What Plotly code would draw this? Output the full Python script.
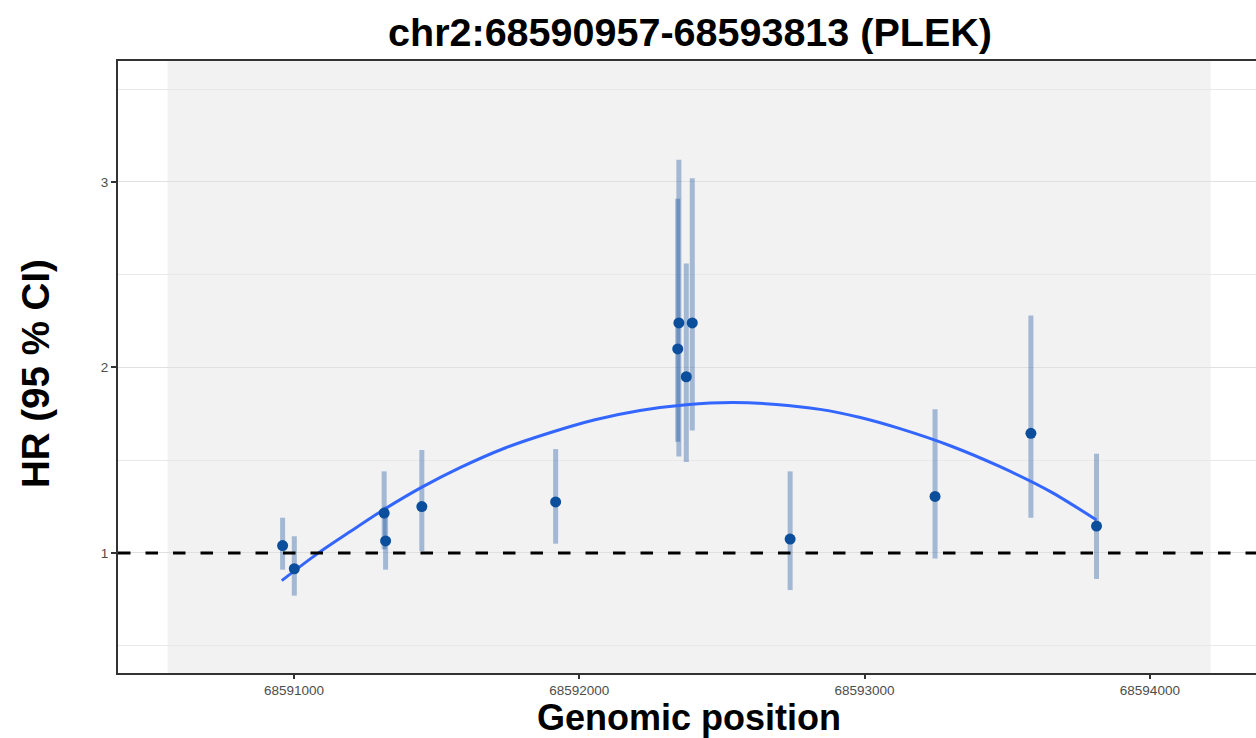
import plotly.graph_objects as go

# ---- data ----
chrom = "chr2"
gene = "PLEK"
region_start = 68590957
region_end = 68593813
region_pad = 400

pos = [68590960, 68591001, 68591316, 68591321, 68591448, 68591917,
       68592345, 68592349, 68592375, 68592396, 68592739, 68593247,
       68593583, 68593813]
hr = [1.04, 0.915, 1.215, 1.065, 1.25, 1.275,
      2.10, 2.24, 1.95, 2.24, 1.075, 1.305,
      1.645, 1.145]
ci_low = [0.91, 0.77, 1.02, 0.91, 1.01, 1.05,
          1.60, 1.52, 1.49, 1.66, 0.80, 0.97,
          1.19, 0.86]
ci_high = [1.19, 1.09, 1.44, 1.25, 1.555, 1.56,
           2.91, 3.12, 2.56, 3.02, 1.44, 1.775,
           2.28, 1.535]

# fitted smooth curve
fit_pos = [68590957, 68591081, 68591200, 68591315, 68591450, 68591582,
           68591740, 68591897, 68592055, 68592213, 68592375, 68592535,
           68592690, 68592844, 68592985, 68593124, 68593300, 68593475,
           68593650, 68593813]
fit_hr = [0.851, 0.995, 1.118, 1.234, 1.356, 1.46,
          1.566, 1.648, 1.718, 1.768, 1.799, 1.811,
          1.801, 1.774, 1.73, 1.67, 1.578, 1.465,
          1.332, 1.178]

x_ticks = [68591000, 68592000, 68593000, 68594000]
y_ticks = [1, 2, 3]
y_minor = [0.5, 1.5, 2.5, 3.5]
ref_line = 1

# ---- figure ----
fig = go.Figure()

err_plus = [h - y for h, y in zip(ci_high, hr)]
err_minus = [y - l for y, l in zip(hr, ci_low)]

fig.add_trace(go.Scatter(
    x=pos, y=hr, mode="markers",
    marker=dict(size=1, color="rgba(0,0,0,0)"),
    error_y=dict(type="data", symmetric=False, array=err_plus, arrayminus=err_minus,
                 color="rgba(8,72,156,0.34)", thickness=5, width=0),
    hoverinfo="skip", showlegend=False,
))

fig.add_trace(go.Scatter(
    x=fit_pos, y=fit_hr, mode="lines",
    line=dict(color="#3366FF", width=3, shape="spline", smoothing=0.8),
    showlegend=False,
))

fig.add_trace(go.Scatter(
    x=pos, y=hr, mode="markers",
    marker=dict(size=11, color="#0B4F9C"),
    showlegend=False,
))

# shaded region
fig.add_shape(type="rect", xref="x", yref="paper",
              x0=region_start - region_pad, x1=region_end + region_pad, y0=0, y1=1,
              fillcolor="#F2F2F2", line=dict(width=0), layer="below")

# reference line
fig.add_shape(type="line", xref="paper", yref="y", x0=0, x1=1, y0=ref_line, y1=ref_line,
              line=dict(color="black", width=3, dash="12.5px,15px"), layer="above")

font_fam = "Liberation Sans, Arial, Helvetica, sans-serif"

fig.update_layout(
    width=1256, height=738,
    margin=dict(l=118, r=0, t=61, b=65),
    paper_bgcolor="white",
    plot_bgcolor="white",
    font=dict(family=font_fam),
    title=dict(text=f"<b>{chrom}:{region_start}-{region_end} ({gene})</b>",
               x=690 / 1256, xanchor="center", xref="container",
               y=1 - 32 / 738, yanchor="middle", yref="container",
               font=dict(size=39.5, color="black", family=font_fam)),
    showlegend=False,
)

fig.update_xaxes(
    range=[68590383, 68594372],
    tickvals=x_ticks, ticktext=[str(v) for v in x_ticks],
    showgrid=False, zeroline=False,
    showline=True, mirror=True, linecolor="#333333", linewidth=2,
    ticks="outside", ticklen=4, tickwidth=1.5, tickcolor="#333333",
    tickfont=dict(size=13.5, color="#4D4D4D", family=font_fam),
)
fig.update_yaxes(
    range=[0.353, 3.652],
    tickvals=y_ticks, ticktext=[str(v) for v in y_ticks],
    showgrid=True, gridcolor="#E0E0E0", gridwidth=1.2,
    minor=dict(tickvals=y_minor, showgrid=True, gridcolor="#E8E8E8", gridwidth=1, ticks=""),
    zeroline=False,
    showline=True, linecolor="#333333", linewidth=2,
    ticks="outside", ticklen=5, tickwidth=1.5, tickcolor="#333333",
    tickfont=dict(size=13.5, color="#4D4D4D", family=font_fam),
)

# axis titles as annotations
fig.add_annotation(text="<b>Genomic position</b>", xref="paper", yref="paper",
                   x=(689 - 118) / 1138, y=(673 - 717.5) / 612,
                   xanchor="center", yanchor="middle", showarrow=False,
                   font=dict(size=36, color="black", family=font_fam))
fig.add_annotation(text="<b>HR (95 % CI)</b>", xref="paper", yref="paper",
                   x=(35 - 118) / 1138, y=(673 - 374) / 612, textangle=-90,
                   xanchor="center", yanchor="middle", showarrow=False,
                   font=dict(size=38.5, color="black", family=font_fam))

fig.write_html("out.html", config={"displayModeBar": False},
               post_script="document.body.style.margin='0';document.body.style.overflow='hidden';")
